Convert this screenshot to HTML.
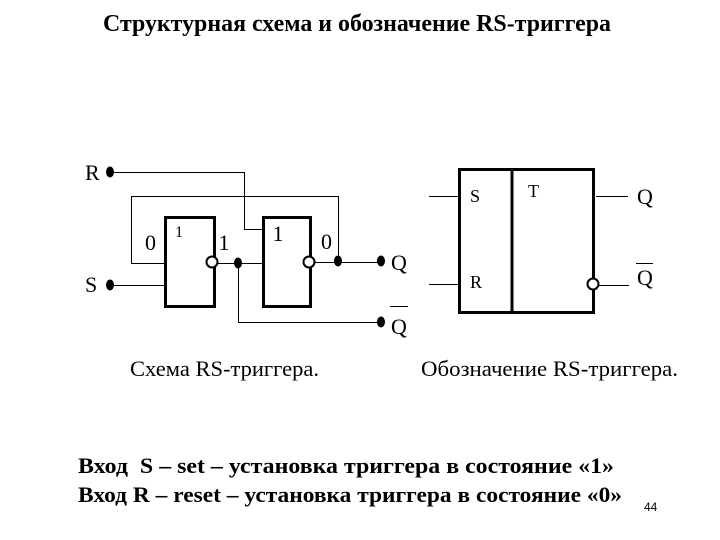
<!DOCTYPE html>
<html><head><meta charset="utf-8"><style>
html,body{margin:0;padding:0;background:#fff}
svg{display:block}
text{font-family:"Liberation Serif",serif;fill:#000}
</style></head><body>
<svg width="720" height="540" viewBox="0 0 720 540" xmlns="http://www.w3.org/2000/svg">
<rect width="720" height="540" fill="#fff"/>
<text x="103" y="31" font-size="24" font-weight="bold" textLength="508" lengthAdjust="spacingAndGlyphs">Структурная схема и обозначение RS-триггера</text>
<g fill="none" stroke="#000" stroke-width="1">
<path d="M110 172.500H244.500V229.500H263"/>
<path d="M165 263.500H131.500V196.500H338.500V260"/>
<path d="M110 285.500H165"/>
<path d="M216 263.500H263"/>
<path d="M314 262.500H380"/>
<path d="M238.500 263V322.500H380"/>
<path d="M429 196.500H461M429 284.500H461M596 196.500H628M598 285.500H629"/>
<path d="M390 306.500H408M636 263.500H653"/>
</g>
<g fill="none" stroke="#000" stroke-width="3">
<rect x="165.500" y="217.500" width="49" height="89"/>
<rect x="263.500" y="217.500" width="47" height="89"/>
<rect x="459.500" y="169.500" width="134" height="143"/>
<path d="M512 169V312"/>
</g>
<g fill="#fff" stroke="#000" stroke-width="2">
<circle cx="212" cy="262" r="5.500"/>
<circle cx="309" cy="262" r="5.500"/>
<circle cx="593" cy="284" r="5.500"/>
</g>
<g fill="#000">
<ellipse cx="110" cy="172" rx="4" ry="5.500"/>
<ellipse cx="110" cy="285" rx="4" ry="5.500"/>
<ellipse cx="238" cy="263" rx="4" ry="5.500"/>
<ellipse cx="338" cy="261" rx="4" ry="5.500"/>
<ellipse cx="381" cy="261" rx="4" ry="5.500"/>
<ellipse cx="381" cy="322" rx="4" ry="5.500"/>
</g>
<g font-size="22">
<text x="85" y="180">R</text>
<text x="85" y="292">S</text>
<text x="145" y="250">0</text>
<text x="218.500" y="250">1</text>
<text x="272.500" y="241">1</text>
<text x="321" y="249">0</text>
<text x="391" y="270">Q</text>
<text x="391" y="334">Q</text>
<text x="637" y="204">Q</text>
<text x="637" y="285">Q</text>
</g>
<text x="175" y="237" font-size="16">1</text>
<g font-size="18">
<text x="470" y="202">S</text>
<text x="470" y="288">R</text>
<text x="528" y="197">T</text>
</g>
<text x="130" y="376" font-size="22" textLength="189" lengthAdjust="spacingAndGlyphs">Схема RS-триггера.</text>
<text x="421" y="376" font-size="22" textLength="257" lengthAdjust="spacingAndGlyphs">Обозначение RS-триггера.</text>
<text x="78" y="473" font-size="22" font-weight="bold" textLength="536" lengthAdjust="spacingAndGlyphs" xml:space="preserve">Вход  S – set – установка триггера в состояние «1»</text>
<text x="78" y="502" font-size="22" font-weight="bold" textLength="544" lengthAdjust="spacingAndGlyphs">Вход R – reset – установка триггера в состояние «0»</text>
<text x="644" y="511" font-size="12" style="font-family:'Liberation Sans',sans-serif">44</text>
</svg>
</body></html>
